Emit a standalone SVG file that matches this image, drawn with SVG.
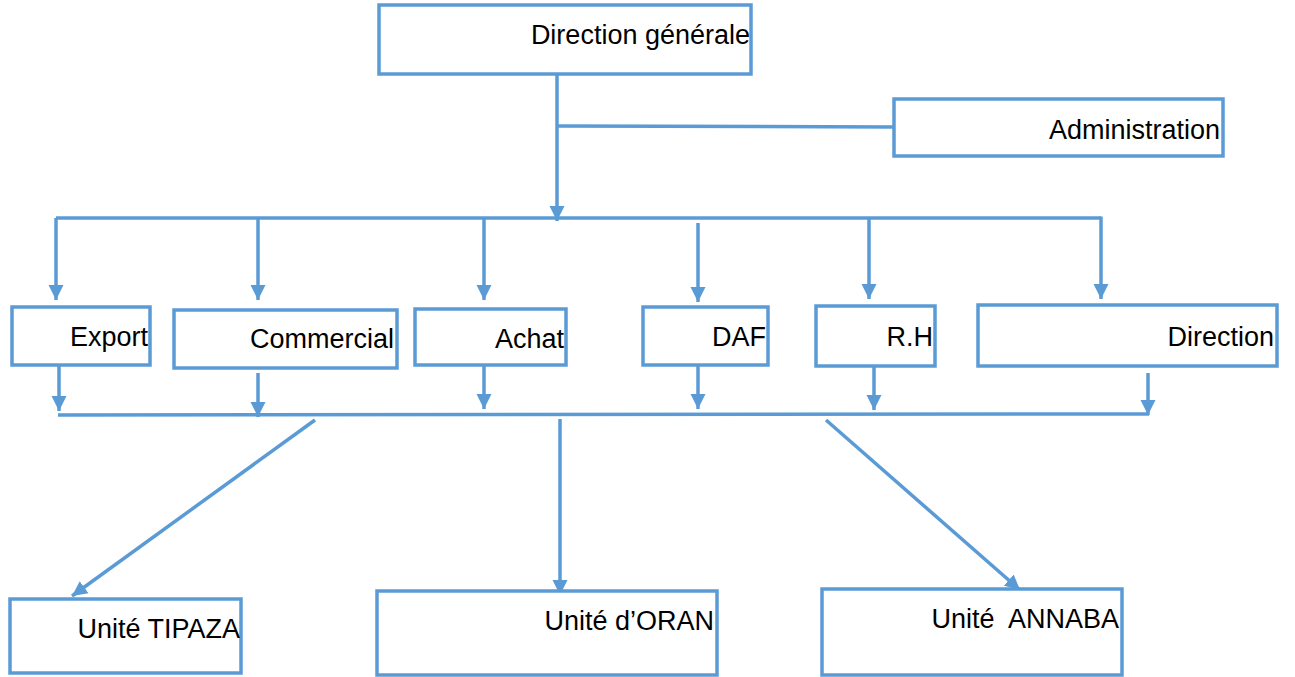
<svg xmlns="http://www.w3.org/2000/svg" width="1295" height="677" viewBox="0 0 1295 677">
<style>
.box{fill:#fff;stroke:#5B9BD5;stroke-width:3.5}
.lbl{font-family:"Liberation Sans",Arial,sans-serif;font-size:27px;fill:#000;text-anchor:end}
.ln{stroke:#5B9BD5;stroke-width:3.5;fill:none}
</style>
<defs>
<marker id="ah" markerUnits="userSpaceOnUse" markerWidth="16" markerHeight="16" refX="15" refY="8" orient="auto">
<path d="M0,0.5 L15,8 L0,15.5 z" fill="#5B9BD5"/>
</marker>
</defs>
<g id="connectors">
<line class="ln" x1="557" y1="74" x2="557" y2="221" marker-end="url(#ah)"/>
<line class="ln" x1="557" y1="126" x2="893" y2="127"/>
<polyline class="ln" points="56,218 1101,218"/>
<line class="ln" x1="56" y1="218" x2="56" y2="300" marker-end="url(#ah)"/>
<line class="ln" x1="258" y1="218" x2="258" y2="300" marker-end="url(#ah)"/>
<line class="ln" x1="484" y1="218" x2="484" y2="300" marker-end="url(#ah)"/>
<line class="ln" x1="698" y1="223" x2="698" y2="302" marker-end="url(#ah)"/>
<line class="ln" x1="869" y1="218" x2="869" y2="299" marker-end="url(#ah)"/>
<line class="ln" x1="1101" y1="216.5" x2="1101" y2="299" marker-end="url(#ah)"/>
<line class="ln" x1="59" y1="366" x2="59" y2="411" marker-end="url(#ah)"/>
<line class="ln" x1="258" y1="373" x2="258" y2="417" marker-end="url(#ah)"/>
<line class="ln" x1="484" y1="366" x2="484" y2="409" marker-end="url(#ah)"/>
<line class="ln" x1="698" y1="366" x2="698" y2="409" marker-end="url(#ah)"/>
<line class="ln" x1="874" y1="367" x2="874" y2="410" marker-end="url(#ah)"/>
<line class="ln" x1="1148" y1="373" x2="1148" y2="415" marker-end="url(#ah)"/>
<line class="ln" x1="58" y1="415" x2="1149" y2="414"/>
<line class="ln" x1="315" y1="420" x2="72" y2="596" marker-end="url(#ah)"/>
<line class="ln" x1="560" y1="419" x2="560" y2="595" marker-end="url(#ah)"/>
<line class="ln" x1="826" y1="420" x2="1020" y2="590" marker-end="url(#ah)"/>
</g>
<g id="n-dg"><rect class="box" x="379" y="5" width="372" height="69"/><text class="lbl" x="750" y="44">Direction générale</text></g>
<g id="n-admin"><rect class="box" x="894" y="99" width="329" height="57"/><text class="lbl" x="1220" y="139">Administration</text></g>
<g id="n-export"><rect class="box" x="12" y="307" width="138" height="58"/><text class="lbl" x="148" y="346">Export</text></g>
<g id="n-commercial"><rect class="box" x="174" y="310" width="223" height="58"/><text class="lbl" x="394" y="348">Commercial</text></g>
<g id="n-achat"><rect class="box" x="415" y="309" width="151" height="56"/><text class="lbl" x="564" y="348">Achat</text></g>
<g id="n-daf"><rect class="box" x="643" y="307" width="125" height="58"/><text class="lbl" x="766" y="346">DAF</text></g>
<g id="n-rh"><rect class="box" x="816" y="306" width="119" height="60"/><text class="lbl" x="933" y="346">R.H</text></g>
<g id="n-direction"><rect class="box" x="978" y="305" width="299" height="61"/><text class="lbl" x="1274" y="346">Direction</text></g>
<g id="n-tipaza"><rect class="box" x="10" y="599" width="231" height="74"/><text class="lbl" x="240" y="638">Unité TIPAZA</text></g>
<g id="n-oran"><rect class="box" x="377" y="591" width="340" height="84"/><text class="lbl" x="714" y="630">Unité d’ORAN</text></g>
<g id="n-annaba"><rect class="box" x="822" y="589" width="300" height="86"/><text class="lbl" x="1119" y="628" xml:space="preserve">Unité  ANNABA</text></g>
</svg>
